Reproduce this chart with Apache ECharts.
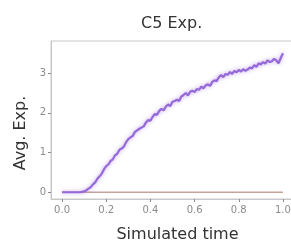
<!DOCTYPE html>
<html>
<head>
<meta charset="utf-8">
<script src="https://cdn.jsdelivr.net/npm/echarts@6/dist/echarts.min.js"></script>
<style>
  html, body { margin: 0; padding: 0; background: #fff; }
  #main { width: 291px; height: 245px; }
</style>
</head>
<body>
<div id="main"></div>
<script>
const times = [
  0.00, 0.01, 0.02, 0.03, 0.04, 0.05, 0.06, 0.07, 0.08, 0.09,
  0.10, 0.11, 0.12, 0.13, 0.14, 0.15, 0.16, 0.17, 0.18, 0.19,
  0.20, 0.21, 0.22, 0.23, 0.24, 0.25, 0.26, 0.27, 0.28, 0.29,
  0.30, 0.31, 0.32, 0.33, 0.34, 0.35, 0.36, 0.37, 0.38, 0.39,
  0.40, 0.41, 0.42, 0.43, 0.44, 0.45, 0.46, 0.47, 0.48, 0.49,
  0.50, 0.51, 0.52, 0.53, 0.54, 0.55, 0.56, 0.57, 0.58, 0.59,
  0.60, 0.61, 0.62, 0.63, 0.64, 0.65, 0.66, 0.67, 0.68, 0.69,
  0.70, 0.71, 0.72, 0.73, 0.74, 0.75, 0.76, 0.77, 0.78, 0.79,
  0.80, 0.81, 0.82, 0.83, 0.84, 0.85, 0.86, 0.87, 0.88, 0.89,
  0.90, 0.91, 0.92, 0.93, 0.94, 0.95, 0.96, 0.97, 0.98, 0.99,
  1.00
];

// purple curve (C5)
const expC5 = [
  0, 0, 0, 0, 0, 0, 0, 0, 0, 0.01,
  0.02, 0.05, 0.09, 0.13, 0.20, 0.25, 0.34, 0.40, 0.47, 0.58,
  0.66, 0.70, 0.79, 0.83, 0.93, 0.97, 1.07, 1.10, 1.15, 1.26,
  1.34, 1.38, 1.42, 1.52, 1.56, 1.60, 1.63, 1.66, 1.76, 1.82,
  1.80, 1.90, 1.97, 1.95, 2.05, 2.10, 2.06, 2.16, 2.21, 2.17,
  2.28, 2.30, 2.33, 2.30, 2.41, 2.45, 2.50, 2.44, 2.53, 2.56,
  2.52, 2.60, 2.58, 2.66, 2.62, 2.69, 2.72, 2.68, 2.78, 2.82,
  2.80, 2.90, 2.95, 2.90, 2.98, 2.96, 3.03, 2.98, 3.06, 3.02,
  3.08, 3.04, 3.10, 3.06, 3.09, 3.14, 3.12, 3.20, 3.16, 3.25,
  3.22, 3.28, 3.24, 3.32, 3.28, 3.30, 3.36, 3.32, 3.25, 3.38,
  3.50
];

// flat baseline series
const baseTimes = [0.0, 1.0];
const baseVals = [0, 0];

const xTicks = [0.0, 0.2, 0.4, 0.6, 0.8, 1.0];
const yTicks = [0, 1, 2, 3];

const pair = (xs, ys) => xs.map((x, i) => [x, ys[i]]);

const axisGray = '#c8c8c8';
const labelGray = '#8a8a8a';
const font = 'DejaVu Sans';

const option = {
  backgroundColor: '#fff',
  animation: false,
  title: {
    text: 'C5 Exp.',
    left: 136,
    top: 11,
    textStyle: { fontFamily: font, fontSize: 16, fontWeight: 'normal', color: '#333' }
  },
  grid: {
    left: 51,
    top: 41,
    width: 243,
    height: 158,
    outerBoundsMode: 'none',
    containLabel: false,
    show: true,
    borderColor: axisGray,
    borderWidth: 1,
    backgroundColor: '#fff'
  },
  xAxis: {
    type: 'value',
    min: -0.05,
    max: 1.05,
    name: 'Simulated time',
    nameLocation: 'middle',
    nameGap: 28,
    nameTextStyle: { fontFamily: font, fontSize: 16, color: '#333', padding: [0, 0, 0, 10] },
    axisLine: { show: true, onZero: false, lineStyle: { color: axisGray } },
    axisTick: { show: true, length: 3, customValues: xTicks, lineStyle: { color: labelGray } },
    axisLabel: {
      customValues: xTicks,
      formatter: v => v.toFixed(1),
      fontFamily: font, fontSize: 10, color: labelGray, margin: 6
    },
    splitLine: { show: false }
  },
  yAxis: {
    type: 'value',
    min: -0.17,
    max: 3.81,
    name: 'Avg. Exp.',
    nameLocation: 'middle',
    nameRotate: 90,
    nameGap: 19,
    nameTextStyle: { fontFamily: font, fontSize: 16, color: '#333', padding: [0, 26, 0, 0] },
    axisLine: { show: true, onZero: false, lineStyle: { color: axisGray } },
    axisTick: { show: true, length: 3, customValues: yTicks, lineStyle: { color: labelGray } },
    axisLabel: {
      customValues: yTicks,
      fontFamily: font, fontSize: 10, color: labelGray, margin: 5
    },
    splitLine: { show: false }
  },
  series: [
    {
      name: 'baseline',
      type: 'line',
      data: pair(baseTimes, baseVals),
      showSymbol: false,
      lineStyle: { color: '#c9a29c', width: 1.5 },
      z: 2
    },
    {
      name: 'C5',
      type: 'line',
      data: pair(times, expC5),
      showSymbol: false,
      lineStyle: {
        color: '#9669d8',
        width: 2.2,
        shadowColor: 'rgba(150,105,216,0.6)',
        shadowBlur: 4
      },
      z: 3
    }
  ]
};

const myChart = echarts.init(document.getElementById('main'));
myChart.setOption(option);
</script>
</body>
</html>
